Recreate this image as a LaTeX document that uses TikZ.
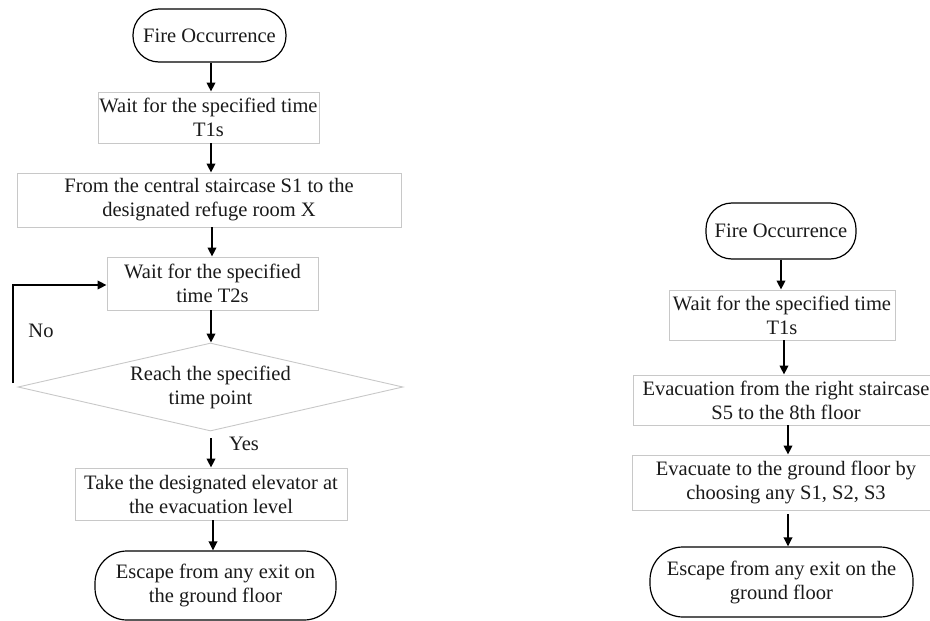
\documentclass[tikz,border=0pt]{standalone}
\usepackage{fontspec}
\setmainfont{Liberation Serif}
\usetikzlibrary{arrows.meta,shapes.geometric}
\definecolor{boxgray}{HTML}{C8C8C8}
\definecolor{txt}{HTML}{1A1A1A}
\begin{document}
\begin{tikzpicture}[x=1pt,y=-1pt,
  every node/.style={font=\fontsize{20.5}{24}\selectfont, text=txt, align=center, inner sep=0pt},
  term/.style={draw=black, line width=1.2pt, rounded corners=26pt},
  procbox/.style={draw=boxgray, line width=0.9pt},
  decbox/.style={diamond, draw=boxgray, line width=0.9pt, aspect=4.375},
  flow/.style={draw=black, line width=2pt, -{Triangle[length=9pt,width=8.5pt]}},
]
\useasboundingbox (0,0) rectangle (930,621);
% ---------- left chart ----------
\node[term, minimum width=153pt, minimum height=53pt] (fo1) at (209.5,35.5) {Fire Occurrence};
\node[procbox, minimum width=221pt, minimum height=51pt] (b1) at (208.5,117.5) {Wait for the specified time\\T1s};
\node[procbox, minimum width=384pt, minimum height=54pt] (b2) at (209,200) {From the central staircase S1 to the\\designated refuge room X};
\node[procbox, minimum width=211pt, minimum height=53pt] (b3) at (212.5,283.5) {Wait for the specified\\time T2s};
\node[decbox, minimum width=385pt, minimum height=88pt] (d1) at (210.5,387) {Reach the specified\\time point};
\node[procbox, minimum width=272pt, minimum height=52pt] (b4) at (211,494) {Take the designated elevator at\\the evacuation level};
\node[term, rounded corners=32pt, minimum width=241pt, minimum height=69pt] (esc1) at (215.5,585.5) {Escape from any exit on\\the ground floor};
\node (no) at (41,331) {No};
\node (yes) at (244,444) {Yes};
\coordinate (ls) at (13,383);

\draw[flow] (fo1.south -| 211,0) -- (b1.north -| 211,0);
\draw[flow] (b1.south -| 211,0) -- (b2.north -| 211,0);
\draw[flow] (b2.south -| 212,0) -- (b3.north -| 212,0);
\draw[flow] (b3.south -| 211,0) -- (d1.north -| 211,0);
\draw[flow, shorten <=7pt] (d1.south -| 211,0) -- (b4.north -| 211,0);
\draw[flow] (b4.south -| 213,0) -- (esc1.north -| 213,0);
\draw[flow] (ls) |- (b3.west |- 0,285);

% ---------- right chart ----------
\node[term, minimum width=150pt, minimum height=56pt] (fo2) at (781,231) {Fire Occurrence};
\node[procbox, minimum width=226pt, minimum height=50pt] (rb1) at (782,315) {Wait for the specified time\\T1s};
\node[procbox, minimum width=306pt, minimum height=50pt] (rb2) at (786,400) {Evacuation from the right staircase\\S5 to the 8th floor};
\node[procbox, minimum width=308pt, minimum height=55pt] (rb3) at (786,482.5) {Evacuate to the ground floor by\\choosing any S1, S2, S3};
\node[term, rounded corners=33pt, minimum width=263pt, minimum height=70pt] (esc2) at (781.5,582) {Escape from any exit on the\\ground floor};

\draw[flow] (fo2.south -| 781,0) -- (rb1.north -| 781,0);
\draw[flow] (rb1.south -| 784,0) -- (rb2.north -| 784,0);
\draw[flow] (rb2.south -| 788,0) -- (rb3.north -| 788,0);
\draw[flow, shorten <=4pt] (rb3.south -| 788,0) -- (esc2.north -| 788,0);
\end{tikzpicture}
\end{document}
